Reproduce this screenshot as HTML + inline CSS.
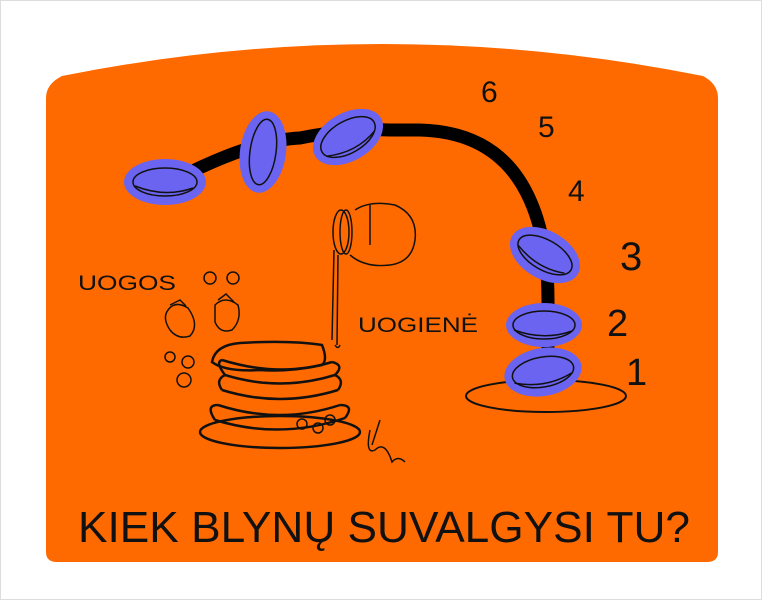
<!DOCTYPE html>
<html><head><meta charset="utf-8"><style>
html,body{margin:0;padding:0;background:#fff}
svg{display:block}
text{font-family:"Liberation Sans",sans-serif;fill:#111}
</style></head><body>
<svg width="762" height="600" viewBox="0 0 762 600" xmlns="http://www.w3.org/2000/svg">
<rect x="0.5" y="0.5" width="761" height="599" fill="#fff" stroke="#ddd"/>
<path d="M46,98 Q46,84 62,76 Q382,12 703,76 Q718,84 718,98 L718,552 Q718,562 707,562 L57,562 Q46,562 46,552 Z" fill="#ff6a00"/>
<path d="M165,185 Q250,140 300,138 Q350,128 390,130 L420,130 Q500,132 530,200 Q548,240 548,300 L548,370" fill="none" stroke="#000" stroke-width="13" stroke-linecap="round"/>
<g stroke="#111" stroke-width="1.5" fill="none">
<g transform="translate(165,182)"><ellipse rx="41" ry="23" fill="#6b64f0" stroke="none"/><ellipse rx="32" ry="14"/><path d="M-30,4 Q0,16 28,6"/></g>
<g transform="translate(263,152) rotate(8)"><ellipse rx="23" ry="41" fill="#6b64f0" stroke="none"/><ellipse rx="13" ry="33"/></g>
<g transform="translate(348,137) rotate(-30)"><ellipse rx="38" ry="24" fill="#6b64f0" stroke="none"/><ellipse rx="30" ry="16"/><path d="M-28,6 Q0,18 26,8"/></g>
<g transform="translate(545,255) rotate(30)"><ellipse rx="38" ry="24" fill="#6b64f0" stroke="none"/><ellipse rx="30" ry="15"/><path d="M-28,5 Q0,16 26,6"/></g>
<g transform="translate(544,325)"><ellipse rx="38" ry="22" fill="#6b64f0" stroke="none"/><ellipse rx="31" ry="14"/><path d="M-30,5 Q0,16 28,6"/></g>
<ellipse cx="546" cy="396" rx="80" ry="16" stroke-width="2"/>
<g transform="translate(543,372) rotate(-10)"><ellipse rx="39" ry="24" fill="#6b64f0" stroke="none"/><ellipse rx="31" ry="15"/><path d="M-30,6 Q0,17 28,6"/></g>
<path d="M355,210 Q370,200 395,205 Q418,215 415,240 Q412,262 390,265 Q365,268 350,255"/>
<path d="M370,205 L370,245"/>
<ellipse cx="341" cy="232" rx="8" ry="22"/><ellipse cx="346" cy="232" rx="6" ry="22"/>
<path d="M334,250 L332,340 M338,255 L337,345 M335,345 Q338,350 340,345"/>
<path d="M168,310 Q175,300 188,308 Q200,325 190,336 Q178,340 170,330 Q162,318 168,310Z"/>
<path d="M215,305 Q225,295 238,305 Q242,320 232,330 Q220,334 215,322Z"/>
<path d="M170,305 L180,300 L186,306 M218,300 L226,294 L234,302"/>
<circle cx="210" cy="278" r="6"/><circle cx="233" cy="278" r="6"/>
<circle cx="170" cy="357" r="5"/><circle cx="188" cy="362" r="6"/><circle cx="184" cy="380" r="7"/>
<g stroke-width="2.5">
<ellipse cx="280" cy="432" rx="80" ry="16"/>
<path d="M215,420 Q280,440 345,418 M218,405 Q280,425 340,405 M222,390 Q280,408 338,390 M225,375 Q280,392 335,375 M222,360 Q280,378 332,362"/>
<path d="M215,420 Q205,405 218,405 M345,418 Q355,405 340,405 M222,390 Q215,380 225,375 M338,390 Q345,380 335,375 M225,375 Q215,362 222,360 M335,375 Q345,365 332,362"/>
<path d="M212,362 Q215,345 240,343 Q290,340 322,345 Q328,360 322,365 Q290,372 260,370 Q225,372 212,362Z"/>
</g>
<circle cx="302" cy="424" r="5"/><circle cx="318" cy="428" r="5"/><circle cx="330" cy="420" r="5"/>
<path d="M380,420 L372,445 M370,430 Q365,455 375,450 Q385,440 392,462 Q398,455 405,462"/>
</g>
<g font-size="30">
<text x="481" y="102">6</text>
<text x="538" y="137">5</text>
<text x="568" y="201">4</text>
<text x="620" y="270" font-size="40">3</text>
<text x="607" y="336" font-size="38">2</text>
<text x="626" y="385" font-size="38">1</text>
</g>
<text x="78" y="290" font-size="21" textLength="98" lengthAdjust="spacingAndGlyphs">UOGOS</text>
<text x="358" y="332" font-size="21" textLength="120" lengthAdjust="spacingAndGlyphs">UOGIENĖ</text>
<text x="78" y="542" font-size="44" textLength="612" lengthAdjust="spacingAndGlyphs">KIEK BLYNŲ SUVALGYSI TU?</text>
</svg>
</body></html>
